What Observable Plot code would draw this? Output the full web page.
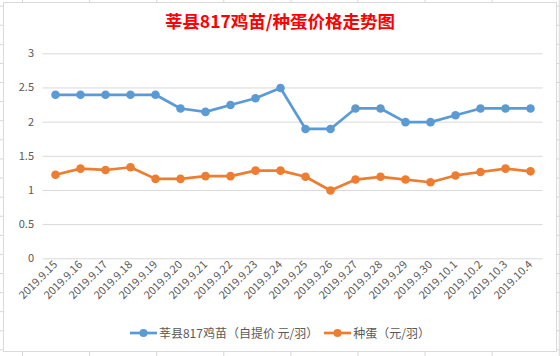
<!DOCTYPE html>
<html><head><meta charset="utf-8">
<script src="https://cdn.jsdelivr.net/npm/d3@7"></script>
<script src="https://cdn.jsdelivr.net/npm/@observablehq/plot@0.6"></script>
<style>
html,body{margin:0;padding:0;}
body{width:560px;height:356px;overflow:hidden;position:relative;background-color:#fff;
  background-image:linear-gradient(to right,#d6d6d6 1px,transparent 1px),linear-gradient(to bottom,#d6d6d6 1px,transparent 1px);
  background-size:67.1px 19.1px;background-position:22px 5.7px;
  font-family:"Noto Sans CJK SC","Noto Sans",sans-serif;}
#box{position:absolute;left:3px;top:2px;width:552px;height:348px;border:1px solid #d9d9d9;background:#fff;}
#title{position:absolute;left:0;top:9px;width:560px;text-align:center;color:#ff0000;font-weight:bold;font-size:17.5px;line-height:24px;}
#chart{position:absolute;left:0;top:40px;}
#legend{position:absolute;left:0;top:324px;width:560px;display:flex;justify-content:center;align-items:center;color:#595959;font-size:12px;line-height:18px;}
#legend .item{display:flex;align-items:center;margin:0 3px;}
#legend svg{margin-right:2px;}
</style></head>
<body>
<div id="box"></div>
<div id="title">莘县817鸡苗/种蛋价格走势图</div>
<div id="chart"></div>
<div id="legend"></div>
<script>
const dates = ["2019.9.15","2019.9.16","2019.9.17","2019.9.18","2019.9.19","2019.9.20","2019.9.21","2019.9.22","2019.9.23","2019.9.24","2019.9.25","2019.9.26","2019.9.27","2019.9.28","2019.9.29","2019.9.30","2019.10.1","2019.10.2","2019.10.3","2019.10.4"];
const chickPrice = [2.4,2.4,2.4,2.4,2.4,2.2,2.15,2.25,2.35,2.5,1.9,1.9,2.2,2.2,2.0,2.0,2.1,2.2,2.2,2.2];
const eggPrice = [1.23,1.32,1.30,1.34,1.17,1.17,1.21,1.21,1.29,1.29,1.20,1.00,1.16,1.20,1.16,1.12,1.22,1.27,1.32,1.28];
const seriesNames = ["莘县817鸡苗（自提价 元/羽）","种蛋（元/羽）"];
const seriesColors = ["#5b9bd5","#ed7d31"];
const yTicks = [0,0.5,1,1.5,2,2.5,3];

const data = dates.flatMap((d,i)=>[
  {date:d,value:chickPrice[i],series:seriesNames[0]},
  {date:d,value:eggPrice[i],series:seriesNames[1]}
]);

const chart = Plot.plot({
  width:560, height:280,
  marginTop:13.3, marginBottom:61.7, marginLeft:42.5, marginRight:17.5,
  style:{fontFamily:'"Noto Sans CJK SC","Noto Sans",sans-serif', background:"transparent"},
  x:{type:"point", domain:dates, padding:0.5},
  y:{domain:[0,3]},
  color:{domain:seriesNames, range:seriesColors},
  marks:[
    Plot.ruleY(yTicks,{stroke:"#d9d9d9", strokeWidth:1}),
    Plot.axisY(yTicks,{tickSize:0, tickPadding:9, label:null, tickFormat:d=>String(d), fill:"#595959", fontSize:11}),
    Plot.axisX({tickSize:0, tickPadding:4, tickRotate:-45, label:null, fill:"#595959", fontSize:11}),
    Plot.line(data,{x:"date", y:"value", z:"series", stroke:"series", strokeWidth:2.7}),
    Plot.dot(data,{x:"date", y:"value", fill:"series", r:4.3})
  ]
});
document.getElementById("chart").appendChild(chart);

const legend = document.getElementById("legend");
seriesNames.forEach((name,i)=>{
  const item = document.createElement("div");
  item.className = "item";
  item.innerHTML = `<svg width="27" height="10"><line x1="0" y1="5" x2="27" y2="5" stroke="${seriesColors[i]}" stroke-width="2.7"/><circle cx="13.5" cy="5" r="4" fill="${seriesColors[i]}"/></svg><span>${name}</span>`;
  legend.appendChild(item);
});
</script>
</body></html>
